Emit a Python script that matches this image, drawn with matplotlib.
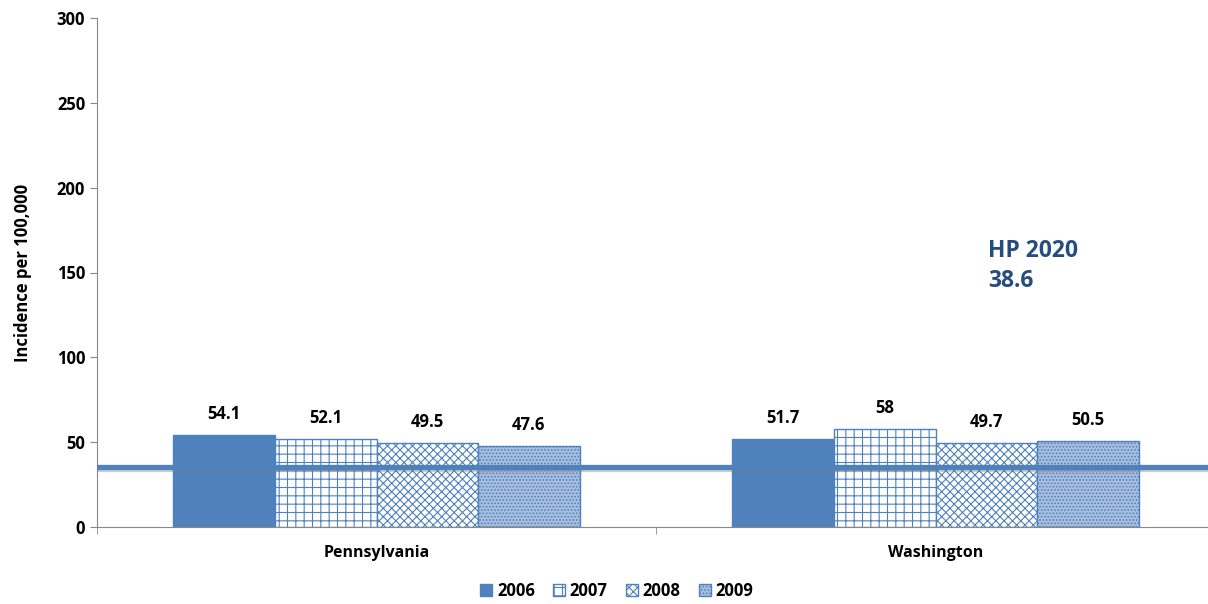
import matplotlib
matplotlib.use("Agg")
import matplotlib.pyplot as plt
import matplotlib.patheffects as pe
import numpy as np

plt.rcParams['font.family'] = ['Open Sans', 'DejaVu Sans']
plt.rcParams['hatch.linewidth'] = 0.8

regions = ["Pennsylvania", "Washington"]
years = ["2006", "2007", "2008", "2009"]
values = {
    "2006": [54.1, 51.7],
    "2007": [52.1, 58],
    "2008": [49.5, 49.7],
    "2009": [47.6, 50.5],
}
hp_line = 35.4
hp_label = "HP 2020\n38.6"

blue = '#4F81BD'
styles = {
    "2006": dict(color=blue, hatch=None),
    "2007": dict(color='white', hatch='++'),
    "2008": dict(color='white', hatch='xxxx'),
    "2009": dict(color='#A9BFE0', hatch='.....'),
}

fig = plt.figure(figsize=(12.08, 6.04), dpi=100)
# plot area runs slightly past the right edge, as in the original
ax = fig.add_axes([97/1208, 1 - 527/604, 1118/1208, (527 - 18)/604])

x = np.arange(len(regions))
w = 0.1816
for i, yr in enumerate(years):
    pos = x + (i - 1.5) * w
    st = styles[yr]
    bars = ax.bar(pos, values[yr], width=w, color=st['color'], edgecolor=blue,
                  hatch=st['hatch'], linewidth=1.0, label=yr, zorder=2)
    for b, v in zip(bars, values[yr]):
        ax.text(b.get_x() + b.get_width() / 2, v + 7, f"{v:g}", ha='center',
                va='bottom', fontsize=12, fontweight='bold')

ax.axhline(hp_line, color=blue, lw=3.8, zorder=3,
           path_effects=[pe.SimpleLineShadow(offset=(0, -1.5), shadow_color='gray', alpha=0.4),
                         pe.Normal()])
ax.text(988/1208, 1 - 266/604, hp_label, transform=fig.transFigure, fontsize=16.5,
        fontweight='bold', color='#264C7E', ha='left', va='center', linespacing=1.3)

ax.set_xlim(-0.5, 1.5)
ax.set_ylim(0, 300)
ax.set_yticks(range(0, 301, 50))
ax.set_xticks([-0.5, 0.5, 1.5], minor=True)
ax.set_xticks(x)
ax.set_xticklabels(regions, fontsize=11.5, fontweight='bold')
ax.tick_params(axis='x', which='major', length=0, pad=13)
ax.tick_params(axis='x', which='minor', length=5, color='#888888')
ax.tick_params(axis='y', length=5, color='#888888', labelsize=12)
for lab in ax.get_yticklabels():
    lab.set_fontweight('bold')
ax.set_ylabel("Incidence per 100,000", fontsize=12, fontweight='bold', labelpad=18)
ax.spines['top'].set_visible(False)
ax.spines['right'].set_visible(False)
ax.spines['left'].set_color('#888888')
ax.spines['bottom'].set_color('#888888')

leg = ax.legend(loc='center', bbox_to_anchor=((617 - 97) / 1118, -64 / 509), ncol=4, frameon=False,
                prop={'weight': 'bold', 'size': 12}, handlelength=0.7, handleheight=0.7,
                handletextpad=0.3, columnspacing=1.1)

fig.savefig("out.png", dpi=100)
